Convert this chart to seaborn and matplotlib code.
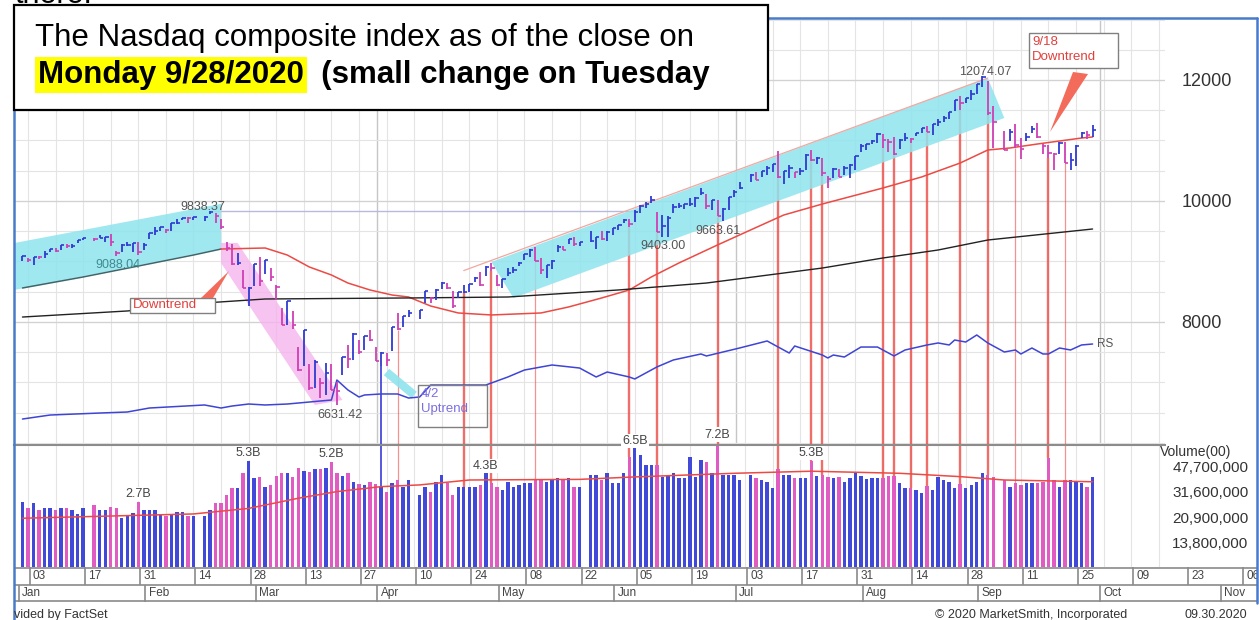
import numpy as np
import pandas as pd
import seaborn as sns
import matplotlib.pyplot as plt
from matplotlib.patches import Rectangle, Polygon
from matplotlib.ticker import NullLocator, NullFormatter

# ---------------------------------------------------------------
# Nasdaq composite, daily bars 2 Jan - 30 Sep 2020
# ---------------------------------------------------------------
holidays = ["2020-01-20", "2020-02-17", "2020-04-10", "2020-05-25", "2020-07-03", "2020-09-07"]
prev_close = 8973

close = [
    9092, 9021, 9071, 9069, 9129, 9203, 9179, 9274, 9251, 9259, 9357,
    9389, 9371, 9384, 9402, 9315, 9139, 9270, 9275, 9299, 9151,
    9273, 9468, 9509, 9572, 9521, 9628, 9639, 9726, 9712, 9731,
    9733, 9817, 9751, 9577, 9221, 8966, 8981, 8566, 8567,
    8952, 8684, 9018, 8739, 8576, 7951, 8344, 7952, 7202, 7875, 6905,
    7335, 6990, 7151, 6880, 6861, 7418, 7384, 7798, 7502, 7774, 7700,
    7361, 7487, 7373, 7913, 7887, 8091, 8154, 8192, 8516, 8393, 8532,
    8650, 8561, 8263, 8495, 8495, 8635, 8730, 8608, 8915, 8890,
    8605, 8711, 8809, 8854, 8980, 9121, 9192, 9003, 8863, 8944,
    9015, 9235, 9185, 9376, 9285, 9325, 9340, 9412, 9369, 9490,
    9552, 9608, 9683, 9616, 9814, 9925, 9954, 10020, 9493, 9589, 9726,
    9896, 9911, 9943, 9946, 10056, 10131, 9909, 10017, 9757, 9874, 10059,
    10155, 10208, 10434, 10344, 10493, 10548, 10617, 10391, 10489, 10550, 10474,
    10503, 10767, 10680, 10706, 10461, 10363, 10536, 10402, 10543, 10588, 10745,
    10903, 10941, 10998, 11108, 11011, 10968, 10783, 11012, 11043, 11019, 11130,
    11211, 11146, 11265, 11312, 11380, 11466, 11665, 11625, 11696, 11775,
    11940, 12056, 11458, 11313, 10848, 11142, 10920, 10854, 11057, 11190, 11050,
    10910, 10793, 10779, 10964, 10633, 10672, 10914, 11118, 11085, 11168,
]
high = [
    9093, 9050, 9072, 9091, 9168, 9204, 9226, 9274, 9283, 9290, 9357,
    9390, 9395, 9440, 9404, 9451, 9175, 9292, 9329, 9301, 9320,
    9305, 9470, 9564, 9573, 9540, 9629, 9705, 9727, 9733, 9732,
    9750, 9838, 9808, 9699, 9316, 9293, 9137, 8865, 8575,
    8953, 9070, 9019, 8888, 8616, 8234, 8344, 8189, 7582, 7875, 7300,
    7373, 7069, 7315, 7313, 7015, 7418, 7617, 7810, 7704, 7775, 7867,
    7579, 7497, 7492, 7917, 8153, 8099, 8199, 8197, 8516, 8416, 8539,
    8656, 8647, 8504, 8500, 8611, 8636, 8750, 8834, 8918, 8971,
    8780, 8711, 8886, 8903, 8992, 9125, 9213, 9232, 9052, 8946,
    9018, 9275, 9257, 9378, 9397, 9325, 9505, 9412, 9506, 9505,
    9553, 9608, 9703, 9702, 9845, 9927, 9979, 10087, 9825, 9762, 9747,
    9943, 9959, 9947, 10053, 10059, 10221, 10123, 10018, 10017, 9877, 10067,
    10180, 10310, 10444, 10481, 10493, 10578, 10618, 10825, 10490, 10596, 10475,
    10543, 10783, 10839, 10727, 10704, 10411, 10542, 10530, 10574, 10605, 10748,
    10942, 10945, 11002, 11121, 11101, 11024, 11050, 11022, 11126, 11043, 11131,
    11211, 11241, 11278, 11348, 11400, 11466, 11666, 11735, 11701, 11830,
    11940, 12074, 11978, 11567, 11152, 11185, 11274, 11033, 11118, 11244, 11293,
    10946, 10920, 10798, 10978, 10974, 10796, 10926, 11139, 11150, 11251,
]
low = [
    9010, 8988, 8943, 9042, 9060, 9165, 9150, 9193, 9226, 9230, 9299,
    9356, 9340, 9380, 9330, 9264, 9088, 9163, 9264, 9165, 9112,
    9187, 9375, 9437, 9505, 9476, 9499, 9616, 9681, 9640, 9692,
    9667, 9785, 9638, 9545, 9176, 8946, 8937, 8564, 8264,
    8590, 8590, 8800, 8678, 8361, 7943, 7955, 7877, 7195, 7268, 6880,
    6906, 6743, 6786, 6870, 6631, 7122, 7236, 7365, 7472, 7545, 7680,
    7358, 7279, 7279, 7517, 7870, 7909, 8084, 8048, 8315, 8313, 8365,
    8543, 8550, 8236, 8399, 8478, 8495, 8661, 8597, 8759, 8840,
    8599, 8561, 8760, 8805, 8926, 9026, 9076, 9001, 8793, 8719,
    8879, 9163, 9183, 9296, 9252, 9249, 9319, 9201, 9349, 9333,
    9438, 9528, 9640, 9563, 9657, 9800, 9883, 9965, 9491, 9404, 9403,
    9806, 9882, 9866, 9914, 9906, 10095, 9867, 9850, 9752, 9664, 9857,
    10059, 10190, 10322, 10342, 10389, 10425, 10481, 10374, 10285, 10379, 10383,
    10434, 10511, 10661, 10612, 10409, 10212, 10377, 10396, 10427, 10381, 10517,
    10812, 10849, 10937, 10965, 10875, 10811, 10768, 10861, 10999, 10961, 11080,
    11119, 11140, 11088, 11245, 11304, 11362, 11488, 11507, 11618, 11672,
    11776, 11878, 11419, 10876, 10844, 10991, 10875, 10701, 10987, 11123, 11046,
    10773, 10707, 10519, 10773, 10623, 10520, 10578, 11046, 11031, 11051,
]
# daily volume, billions of shares
vol_b = [
    2.69, 2.41, 2.65, 2.35, 2.41, 2.41, 2.35, 2.41, 2.41, 2.35, 2.20,
    2.41, 2.55, 2.35, 2.35, 2.47, 2.41, 2.05, 2.13, 2.25, 2.70,
    2.33, 2.35, 2.35, 2.16, 2.13, 2.16, 2.29, 2.29, 2.13, 2.13,
    2.13, 2.33, 2.62, 2.62, 3.00, 3.36, 3.36, 4.30, 5.30,
    3.97, 4.05, 3.45, 3.55, 4.10, 4.30, 4.30, 4.05, 4.68, 4.50, 4.40,
    4.58, 4.58, 4.68, 5.20, 4.30, 4.10, 4.35, 3.73, 3.60, 3.55, 3.73,
    3.60, 3.45, 3.16, 3.64, 3.85, 3.45, 3.85, 3.01, 3.45, 3.18, 3.74,
    4.18, 3.64, 3.00, 3.45, 3.45, 3.45, 3.45, 3.55, 4.30, 3.64,
    3.45, 3.27, 3.74, 3.45, 3.55, 3.64, 3.64, 3.89, 3.85, 3.74,
    3.89, 3.96, 3.89, 3.96, 3.45, 3.45, 4.18, 4.18, 3.85, 4.30,
    3.64, 3.64, 4.30, 5.66, 6.50, 5.81, 4.93, 4.93, 4.93, 4.07, 4.18,
    4.30, 3.96, 3.96, 5.66, 4.07, 5.35, 5.21, 4.30, 7.20, 4.18, 4.18,
    4.18, 3.85, 4.18, 3.96, 3.85, 3.74, 3.36, 4.60, 4.18, 4.18, 3.96,
    3.96, 3.96, 5.30, 4.10, 4.18, 4.07, 3.96, 4.07, 3.74, 3.96, 4.30,
    4.10, 3.89, 3.96, 4.00, 4.00, 4.10, 4.10, 3.64, 3.36, 3.40, 3.27,
    3.10, 3.50, 3.27, 4.07, 3.85, 3.74, 3.40, 3.60, 3.36, 3.55,
    3.74, 4.30, 4.18, 4.07, 3.85, 3.45, 3.64, 3.55, 3.64, 3.64, 3.64,
    3.74, 5.50, 3.85, 3.45, 3.85, 3.85, 3.74, 3.64, 3.45, 4.07,
]

# moving averages / RS line, sampled where they bend
ma50_dates = ["2020-01-02", "2020-01-17", "2020-01-31", "2020-02-14", "2020-02-21",
              "2020-03-04", "2020-03-10", "2020-03-16", "2020-03-20", "2020-03-25",
              "2020-03-31", "2020-04-06", "2020-04-09", "2020-04-15", "2020-04-22",
              "2020-04-30", "2020-05-13", "2020-05-20", "2020-05-28", "2020-06-04",
              "2020-06-10", "2020-06-17", "2020-06-26", "2020-07-06", "2020-07-14",
              "2020-07-23", "2020-08-07", "2020-08-18", "2020-08-27", "2020-09-03",
              "2020-09-09", "2020-09-16", "2020-09-28", "2020-09-30"]
ma50 = [8562, 8744, 8925, 9107, 9206, 9223, 9107, 8909, 8777, 8644,
        8529, 8446, 8413, 8264, 8149, 8116, 8149, 8248, 8397, 8529,
        8744, 8975, 9273, 9521, 9768, 9950, 10215, 10397, 10628, 10843,
        10876, 10942, 11041, 11058]
ma200_dates = ["2020-01-02", "2020-01-29", "2020-02-18", "2020-03-04", "2020-04-09",
               "2020-05-05", "2020-06-02", "2020-06-24", "2020-07-23", "2020-08-07",
               "2020-08-21", "2020-09-03", "2020-09-30"]
ma200 = [8082, 8182, 8314, 8380, 8397, 8413, 8529, 8644, 8892, 9058, 9190, 9355, 9537]

rs_dates = ["2020-01-02", "2020-01-09", "2020-01-22", "2020-01-29", "2020-02-04", "2020-02-18",
            "2020-02-21", "2020-02-25", "2020-02-28", "2020-03-04", "2020-03-10", "2020-03-16",
            "2020-03-18", "2020-03-20", "2020-03-23", "2020-03-25", "2020-03-27", "2020-03-30",
            "2020-04-02", "2020-04-07", "2020-04-09", "2020-04-13", "2020-04-15", "2020-04-22",
            "2020-04-29", "2020-05-05", "2020-05-08", "2020-05-15", "2020-05-22", "2020-05-27",
            "2020-05-29", "2020-06-04", "2020-06-05", "2020-06-11", "2020-06-16", "2020-06-23",
            "2020-06-24", "2020-07-02", "2020-07-09", "2020-07-13", "2020-07-15", "2020-07-16",
            "2020-07-23", "2020-07-24", "2020-07-27", "2020-07-29", "2020-08-03", "2020-08-06",
            "2020-08-11", "2020-08-13", "2020-08-19", "2020-08-21", "2020-08-25", "2020-08-26",
            "2020-08-28", "2020-09-01", "2020-09-03", "2020-09-08", "2020-09-10", "2020-09-11",
            "2020-09-15", "2020-09-17", "2020-09-18", "2020-09-22", "2020-09-24", "2020-09-28",
            "2020-09-30"]
rs_line = [6396, 6462, 6495, 6512, 6578, 6628,
           6578, 6611, 6644, 6628, 6644, 6677,
           6694, 6710, 7041, 6876, 6760, 6793,
           6810, 6810, 6743, 6760, 6958, 6958,
           6958, 7091, 7206, 7289, 7239, 7091,
           7173, 7091, 7058, 7256, 7372, 7471,
           7438, 7570, 7686, 7586, 7487, 7603,
           7454, 7405, 7454, 7421, 7586, 7586,
           7438, 7537, 7620, 7653, 7620, 7702,
           7669, 7785, 7653, 7504, 7537, 7471,
           7570, 7471, 7471, 7570, 7537, 7620,
           7636]

vol_ma_dates = ["2020-01-02", "2020-02-14", "2020-02-28", "2020-03-12", "2020-03-23",
                "2020-04-02", "2020-04-13", "2020-04-24", "2020-05-22", "2020-06-05",
                "2020-07-01", "2020-07-21", "2020-08-12", "2020-08-27", "2020-09-08",
                "2020-09-30"]
vol_ma_b = [2.05, 2.20, 2.41, 2.85, 3.18, 3.45, 3.55, 3.85, 3.89, 4.05,
            4.30, 4.45, 4.30, 4.07, 3.85, 3.74]

# distribution days (red markers) and the 4/2 accumulation marker
dist_days = ["2020-04-23", "2020-04-30", "2020-06-04", "2020-06-11", "2020-06-26",
             "2020-07-13", "2020-07-21", "2020-07-23", "2020-08-07", "2020-08-11",
             "2020-08-14", "2020-08-19", "2020-08-27", "2020-09-03", "2020-09-18"]
dist_days_faint = ["2020-04-07", "2020-05-12", "2020-09-10", "2020-09-23"]
acc_days = ["2020-04-02"]

# trend channels drawn on the chart (date, index level)
jan_channel = [("2019-12-31", 9296), ("2020-02-21", 9953), ("2020-02-21", 9210), ("2019-12-31", 8519)]
down_channel = [("2020-02-21", 9306), ("2020-02-26", 9306), ("2020-03-24", 6710),
                ("2020-03-17", 6628), ("2020-02-21", 8975)]
up_channel = [("2020-04-30", 8992), ("2020-09-03", 12033), ("2020-09-08", 11372), ("2020-05-06", 8396)]
up_channel_edge = [("2020-04-23", 8850), ("2020-09-03", 12033)]
apr_stroke = [("2020-04-03", 7173), ("2020-04-10", 6793)]
pivot = ("2020-02-19", "2020-06-08", 9838)

note_dates = ["2020-02-19", "2020-01-27", "2020-03-23", "2020-06-15", "2020-06-29", "2020-09-02"]
note_side = ["high", "low", "low", "low", "low", "high"]
note_text = ["9838.37", "9088.04", "6631.42", "9403.00", "9663.61", "12074.07"]

vol_note_dates = ["2020-01-31", "2020-02-28", "2020-03-20", "2020-04-29", "2020-06-05", "2020-06-26", "2020-07-21"]
vol_note_text = ["2.7B", "5.3B", "5.2B", "4.3B", "6.5B", "7.2B", "5.3B"]

price_ticks = [8000, 10000, 12000]
vol_ticks = [13_800_000, 20_900_000, 31_600_000, 47_700_000]

# ---------------------------------------------------------------
sns.set_theme(style="white")
plt.rcParams["font.family"] = ["Liberation Sans", "DejaVu Sans"]

W, H = 1259, 620
X0, DX = 28, 5.516   # pixel of the 3 Jan slot, pixels per weekday slot
PPX = 16.53          # index points per pixel, 12000 sits at y=80

UP, DOWN = "#2f3bd0", "#cf3fb3"
VUP, VDOWN = "#4049d8", "#e05cc2"
CYAN = "#8fe4ee"
RED = "#ec4a44"


def wpos(d):
    d = pd.to_datetime(d)
    if isinstance(d, pd.Timestamp):
        d = pd.DatetimeIndex([d])
    return np.busday_count("2020-01-01", d.values.astype("datetime64[D]"))


def px_x(x):
    return 2 + (x - X0) / DX


def px_price(y):
    return 12000 - (y - 80) * PPX


def px_vol(y):
    return 47.7e6 * 1.51 ** ((467 - y) / 25)


def rect(x0, y0, x1, y1):
    return [x0 / W, 1 - y1 / H, (x1 - x0) / W, (y1 - y0) / H]


def verts(pts):
    return [(wpos(d)[0], v) for d, v in pts]


days = pd.bdate_range("2020-01-02", "2020-09-30")
days = days[~days.isin(pd.to_datetime(holidays))]
pos = wpos(days)
close, high, low = np.array(close), np.array(high), np.array(low)
vol = np.array(vol_b) * 1e7   # in hundreds of shares
up = close >= np.concatenate([[prev_close], close[:-1]])
bar_col = np.where(up, UP, DOWN)
vol_col = np.where(up, VUP, VDOWN)
day_idx = {d.strftime("%Y-%m-%d"): i for i, d in enumerate(days)}

fig = plt.figure(figsize=(W / 100, H / 100), dpi=100)
ax = fig.add_axes(rect(14, 19, 1165, 445))
axv = fig.add_axes(rect(14, 445, 1165, 567))
axd = fig.add_axes(rect(14, 567, 1257, 602))
top = fig.add_axes([0, 0, 1, 1], zorder=10)

fridays = wpos(pd.date_range("2020-01-03", "2020-11-06", freq="W-FRI"))
quarters = wpos(["2020-04-01", "2020-07-01", "2020-10-01"]) + 0.3

# ---------------- price panel ----------------
xl = (px_x(14), px_x(1165))
yl = (px_price(445), px_price(19))
ax.set_xlim(*xl)
ax.set_ylim(*yl)
for s in ax.spines.values():
    s.set_visible(False)
ax.set_xticks([])
ax.yaxis.tick_right()
ax.set_yticks(price_ticks)
ax.set_yticklabels([str(v) for v in price_ticks])
ax.tick_params(axis="y", length=0, pad=12, labelsize=13, labelcolor="#333333")

ax.vlines(fridays, *yl, color="#e4e4e4", lw=0.8, zorder=0)
ax.vlines(quarters, *yl, color="#c6c6c6", lw=1.0, zorder=0)
ax.hlines(np.arange(6000, 13001, 500), *xl, color="#e4e4e4", lw=0.8, zorder=0)
ax.hlines(price_ticks, *xl, color="#d2d2d2", lw=0.9, zorder=0)
ax.hlines(pivot[2], wpos(pivot[0])[0], wpos(pivot[1])[0], color="#b8b8e0", lw=1.0, zorder=1)

ax.add_patch(Polygon(verts(jan_channel), closed=True, fc=CYAN, ec="none", alpha=0.85, zorder=2))
ax.add_patch(Polygon(verts(down_channel), closed=True, fc="#f5b5ee", ec="none", alpha=0.8, zorder=2))
ax.add_patch(Polygon(verts(up_channel), closed=True, fc=CYAN, ec="none", alpha=0.85, zorder=2))
ex, ey = zip(*verts(up_channel_edge))
ax.plot(ex, ey, color="#f2a7a0", lw=0.9, zorder=2.5)
sx, sy = zip(*verts(apr_stroke))
ax.plot(sx, sy, color=CYAN, lw=6, solid_capstyle="butt", alpha=0.9, zorder=2)

# moving averages + RS line
ma50_pos = wpos(ma50_dates)
under = ma50_pos <= wpos("2020-02-21")[0]
sns.lineplot(x=ma50_pos[under], y=np.array(ma50)[under], ax=ax, color="#3d666b",
             lw=1.1, estimator=None, sort=False, zorder=3)
sns.lineplot(x=ma50_pos[under.sum() - 1:], y=np.array(ma50)[under.sum() - 1:], ax=ax,
             color=RED, lw=1.1, estimator=None, sort=False, zorder=3)
sns.lineplot(x=wpos(ma200_dates), y=ma200, ax=ax, color="#222222", lw=1.0,
             estimator=None, sort=False, zorder=3)
rs_pos = wpos(rs_dates)
sns.lineplot(x=rs_pos, y=rs_line, ax=ax, color="#3e44d4", lw=1.1,
             estimator=None, sort=False, zorder=3)
ax.annotate("RS", (rs_pos[-1], rs_line[-1]), xytext=(3, 0), textcoords="offset points",
            va="center", ha="left", fontsize=8.5, color="#555555")

# distribution / accumulation markers
for group, lw, alpha in [(dist_days, 1.7, 0.8), (dist_days_faint, 0.9, 0.6)]:
    idx = [day_idx[d] for d in group]
    ax.vlines(pos[idx], yl[0], low[idx], color=RED, lw=lw, alpha=alpha, zorder=1.5)
aidx = [day_idx[d] for d in acc_days]
ax.vlines(pos[aidx], yl[0], low[aidx], color="#3a3ad8", lw=1.2, zorder=1.5)

# HLC bars
ax.vlines(pos, low, high, colors=bar_col, lw=1.3, zorder=4)
ax.hlines(close, pos, pos + 0.6, colors=bar_col, lw=1.2, zorder=4)

note_offsets = [(-7, 4), (2, -9), (3, -10), (-5, -9), (-5, -10), (3, 4)]
for d, side, txt, (dx, dy) in zip(note_dates, note_side, note_text, note_offsets):
    i = day_idx[d]
    val = high[i] if side == "high" else low[i]
    col = "#3f8a90" if d == "2020-01-27" else "#555555"
    ax.annotate(txt, (pos[i], val), xytext=(dx * 0.72, dy * 0.72), textcoords="offset points",
                ha="center", va="center", fontsize=9, color=col, zorder=6)

# ---------------- volume panel ----------------
axv.set_yscale("log")
axv.set_xlim(*xl)
vl = (px_vol(567), px_vol(445))
axv.set_ylim(*vl)
for k, s in axv.spines.items():
    s.set_visible(k == "top")
axv.spines["top"].set_color("#8c8c8c")
axv.spines["top"].set_linewidth(1.5)
axv.set_xticks([])
axv.yaxis.tick_right()
axv.set_yticks(vol_ticks)
axv.set_yticklabels([f"{v:,}" for v in vol_ticks])
axv.yaxis.set_minor_locator(NullLocator())
axv.yaxis.set_minor_formatter(NullFormatter())
axv.tick_params(axis="y", length=0, pad=60, labelsize=11, labelcolor="#333333")
for lbl in axv.get_yticklabels():
    lbl.set_horizontalalignment("right")

axv.vlines(fridays, *vl, color="#e4e4e4", lw=0.8, zorder=0)
axv.bar(pos, vol - vl[0], bottom=vl[0], width=0.62, color=vol_col, lw=0, zorder=2)
sns.lineplot(x=wpos(vol_ma_dates), y=np.array(vol_ma_b) * 1e7, ax=axv, color=RED,
             lw=1.1, estimator=None, sort=False, zorder=3)
for group, lw, alpha in [(dist_days, 1.7, 0.8), (dist_days_faint, 0.9, 0.6)]:
    idx = [day_idx[d] for d in group]
    axv.vlines(pos[idx], vol[idx], vl[1], color=RED, lw=lw, alpha=alpha, zorder=1.5)
axv.vlines(pos[aidx], vol[aidx], vl[1], color="#3a3ad8", lw=1.2, zorder=1.5)

for d, txt in zip(vol_note_dates, vol_note_text):
    i = day_idx[d]
    axv.annotate(txt, (pos[i], vol[i]), xytext=(0, 1), textcoords="offset points",
                 ha="center", va="bottom", fontsize=9, color="#444444", annotation_clip=False,
                 bbox=dict(boxstyle="square,pad=0.1", fc="white", ec="none"), zorder=6)

# ---------------- date rows ----------------
axd.set_xlim(px_x(14), px_x(1257))
axd.set_ylim(0, 1)
axd.axis("off")
axd.hlines([0.02, 0.5, 0.98], px_x(14), px_x(1257), color="#8a8a8a", lw=1.2)
tick_days = pd.date_range("2020-01-03", "2020-11-06", freq="14D")
tp = wpos(tick_days)
axd.vlines(tp + 0.35, 0.5, 1, color="#8a8a8a", lw=1.2)
for p, d in zip(tp, tick_days):
    axd.text(p + 0.9, 0.74, d.strftime("%d"), fontsize=8.5, color="#444444",
             ha="left", va="center", clip_on=True)
months = pd.date_range("2020-01-01", "2020-11-01", freq="MS")
first_wd = np.busday_offset(months.values.astype("datetime64[D]"), 0, roll="forward")
mp = np.busday_count("2020-01-01", first_wd)
axd.vlines(mp + 0.3, 0, 0.5, color="#8a8a8a", lw=1.2)
for p, d in zip(mp, months):
    axd.text(p + 0.9, 0.25, d.strftime("%b"), fontsize=8.5, color="#444444",
             ha="left", va="center", clip_on=True)

# ---------------- overlay: frame, title box, callouts ----------------
top.set_xlim(0, W)
top.set_ylim(H, 0)
top.axis("off")
top.patch.set_visible(False)

frame = "#4a7bc8"
top.plot([14, 14], [5, 620], color=frame, lw=1.8)
top.plot([14, 1257], [18, 18], color=frame, lw=1.8)
top.plot([1257, 1257], [18, 603], color=frame, lw=1.8)

top.text(15, 3, "there.", fontsize=22, va="baseline", ha="left", color="black")
top.add_patch(Rectangle((14, 5), 754, 105, fc="white", ec="black", lw=1.6, zorder=5))
top.text(35, 38, "The Nasdaq composite index as of the close on", fontsize=22.5,
         va="center", ha="left", color="black", zorder=6)
t2 = top.text(38, 75, "Monday 9/28/2020", fontsize=22.5, fontweight="bold", va="center",
              ha="left", color="black", zorder=6,
              bbox=dict(boxstyle="square,pad=0.1", fc="#ffff00", ec="none"))
top.annotate("  (small change on Tuesday", xy=(1, 0), xycoords=t2, va="bottom", ha="left",
             fontsize=22.5, fontweight="bold", color="black", zorder=6)

top.text(1231, 452, "Volume(00)", fontsize=10, ha="right", va="center", color="#333333")

# callout boxes
top.add_patch(Rectangle((130, 298), 85, 15, fc="white", ec="#808080", lw=1, zorder=4))
top.text(133, 305.5, "Downtrend", fontsize=9.5, color="#e0403c", va="center", ha="left", zorder=5)
top.add_patch(Polygon([(201, 298), (213, 298), (229, 271)], closed=True, fc="#f26b5b", ec="none", zorder=4))

top.add_patch(Rectangle((1029, 33), 89, 35, fc="white", ec="#808080", lw=1, zorder=4))
top.text(1032, 42, "9/18", fontsize=9.5, color="#e0403c", va="center", ha="left", zorder=5)
top.text(1032, 57, "Downtrend", fontsize=9.5, color="#e0403c", va="center", ha="left", zorder=5)
top.add_patch(Polygon([(1073, 72), (1088, 74), (1050, 132)], closed=True, fc="#f26b5b", ec="none", zorder=4))

top.add_patch(Rectangle((418, 385), 69, 42, fc="none", ec="#808080", lw=1, zorder=4))
top.text(421, 394, "4/2", fontsize=9.5, color="#7b6fe0", va="center", ha="left", zorder=5)
top.text(421, 409, "Uptrend", fontsize=9.5, color="#7b6fe0", va="center", ha="left", zorder=5)

# footer
top.text(14, 615, "vided by FactSet", fontsize=9, color="#333333", va="center", ha="left")
top.text(935, 615, "\u00a9 2020 MarketSmith, Incorporated", fontsize=9, color="#333333",
         va="center", ha="left")
top.text(1185, 615, "09.30.2020", fontsize=9, color="#333333", va="center", ha="left")

fig.savefig("out.png", dpi=100)
